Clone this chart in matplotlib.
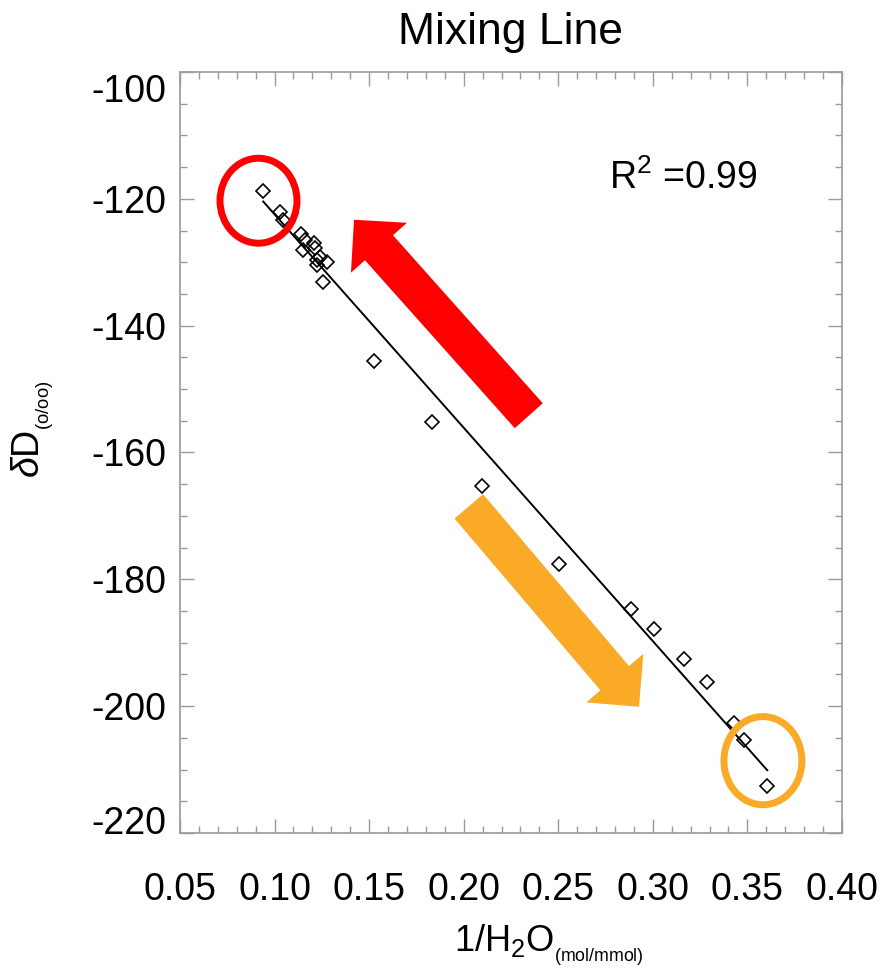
import numpy as np
import matplotlib.pyplot as plt
from matplotlib.patches import Ellipse
from matplotlib.ticker import MultipleLocator
from matplotlib.transforms import ScaledTranslation

plt.rcParams['font.family'] = ['Liberation Sans', 'DejaVu Sans']
plt.rcParams['mathtext.fontset'] = 'custom'
plt.rcParams['mathtext.rm'] = 'Liberation Sans'
plt.rcParams['mathtext.it'] = 'Liberation Sans:italic'

# samples: inverse water content and deuterium excess
inv_h2o = [0.0940, 0.1029, 0.1045, 0.1138, 0.1161, 0.1152, 0.1210, 0.1214,
           0.1240, 0.1276, 0.1223, 0.1223, 0.1258, 0.1526, 0.1834, 0.2095,
           0.2505, 0.2883, 0.3006, 0.3166, 0.3285, 0.3429, 0.3482, 0.3605]
dD = [-118.7, -122.0, -123.3, -125.5, -126.5, -128.0, -127.0, -127.8,
      -129.2, -129.9, -130.5, -129.6, -133.1, -145.5, -155.2, -165.3,
      -177.6, -184.7, -187.8, -192.6, -196.2, -202.6, -205.3, -212.6]

xticks = [0.05, 0.10, 0.15, 0.20, 0.25, 0.30, 0.35, 0.40]
yticks = [-100, -120, -140, -160, -180, -200, -220]

red = '#ff0000'
orange = '#fbaa27'
grey = '#9a9a9a'

fig = plt.figure(figsize=(8.96, 9.69), dpi=100)
ax = fig.add_axes([0.2009, 0.1404, 0.7388, 0.7853])

# linear fit through all samples
coef = np.polyfit(inv_h2o, dD, 1)
fit_x = np.linspace(min(inv_h2o), max(inv_h2o), 100)
ax.plot(fit_x, np.polyval(coef, fit_x), color='black', lw=1.4, zorder=3)
ax.plot(inv_h2o, dD, 'D', ms=7, mfc='none', mec='black', mew=1.2,
        ls='none', zorder=4)

pred = np.polyval(coef, inv_h2o)
r2 = 1 - np.sum((np.array(dD) - pred) ** 2) / np.sum((np.array(dD) - np.mean(dD)) ** 2)
ax.text(0.2768, -118.4, f'R$^2$ ={r2:.2f}', fontsize=27, ha='left', va='baseline')

# end members
ax.add_patch(Ellipse((0.0915, -120.3), 0.0407, 13.4, fill=False, ec=red, lw=5, zorder=5))
ax.add_patch(Ellipse((0.3582, -208.6), 0.0412, 13.9, fill=False, ec=orange, lw=5, zorder=5))

style = 'simple,head_length=27,head_width=54,tail_width=27'
ax.annotate('', xy=(0.1420, -123.3), xytext=(0.2344, -154.2),
            arrowprops=dict(arrowstyle=style, fc=red, lw=0, shrinkA=0, shrinkB=0,
                            mutation_scale=1))
ax.annotate('', xy=(0.2927, -200.1), xytext=(0.2027, -168.5),
            arrowprops=dict(arrowstyle=style, fc=orange, lw=0, shrinkA=0, shrinkB=0,
                            mutation_scale=1))

ax.set_xlim(0.05, 0.40)
ax.set_ylim(-220, -100)
ax.set_xticks(xticks)
ax.set_xticklabels([f'{v:.2f}' for v in xticks])
ax.set_yticks(yticks)
ax.set_yticklabels([str(v) for v in yticks])
ax.xaxis.set_minor_locator(MultipleLocator(0.01))
ax.yaxis.set_minor_locator(MultipleLocator(5))
ax.tick_params(which='both', direction='in', top=True, right=True, color=grey, width=1)
ax.tick_params(which='major', length=10)
ax.tick_params(which='minor', length=5)
ax.tick_params(axis='x', which='major', labelsize=27, pad=28)
ax.tick_params(axis='y', which='major', labelsize=27, pad=10)
for sp in ax.spines.values():
    sp.set_color(grey)
    sp.set_linewidth(1.2)

# keep the end labels inside the box height
labs = ax.get_yticklabels()
labs[0].set_transform(labs[0].get_transform() + ScaledTranslation(0, -0.16, fig.dpi_scale_trans))
labs[-1].set_transform(labs[-1].get_transform() + ScaledTranslation(0, 0.13, fig.dpi_scale_trans))

ax.set_title('Mixing Line', fontsize=32, pad=20)
ax.set_xlabel(r'1/H$_2$O$_{_{\rm (mol/mmol)}}$', fontsize=26)
ax.xaxis.set_label_coords(0.558, -0.118)
ax.set_ylabel(r'$\delta$D$_{_{\rm (o/oo)}}$', fontsize=27)
ax.yaxis.set_label_coords(-0.188, 0.53)

fig.savefig('out.png', dpi=100)
